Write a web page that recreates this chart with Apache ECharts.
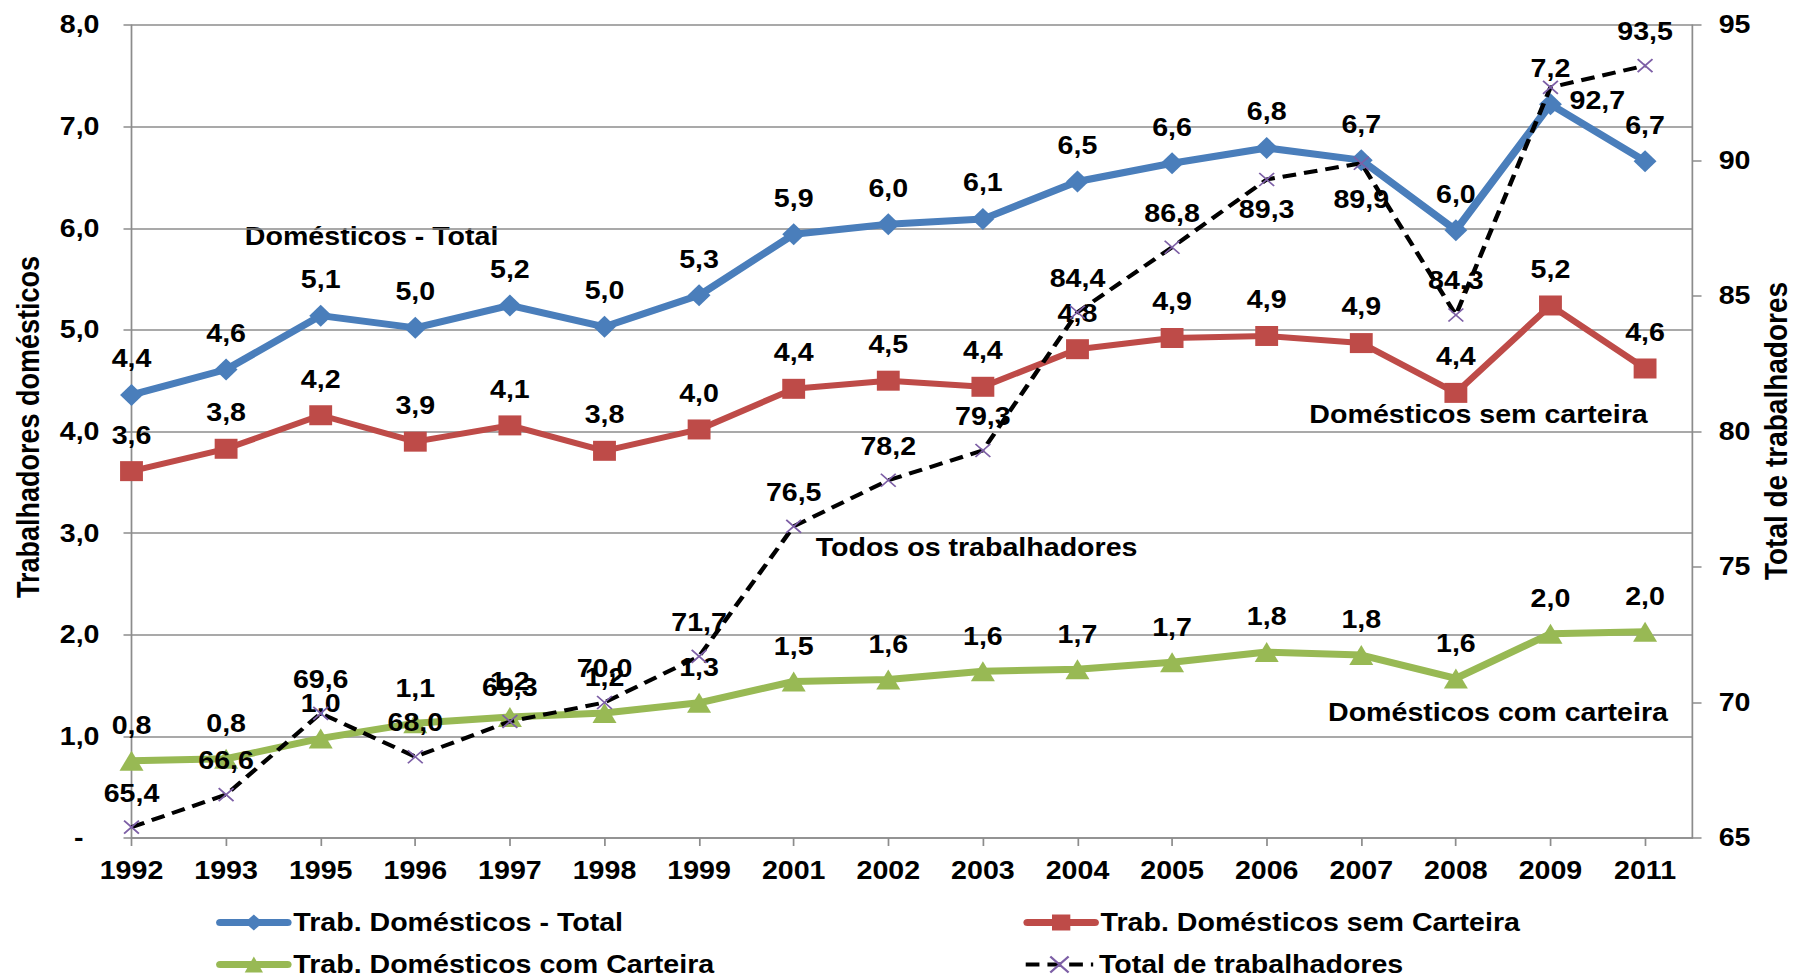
<!DOCTYPE html>
<html>
<head>
<meta charset="utf-8">
<script src="https://cdn.jsdelivr.net/npm/echarts/dist/echarts.min.js"></script>
<style>
  html, body { margin: 0; padding: 0; background: #fff; overflow: hidden; }
  #wrap { width: 1793px; height: 978px; overflow: hidden; }
  #chart { width: 1568px; height: 978px; transform: scaleX(1.143495); transform-origin: 0 0; }
</style>
</head>
<body>
<div id="wrap"><div id="chart"></div></div>
<script>
// ---- data ----
const years = ['1992','1993','1995','1996','1997','1998','1999','2001','2002','2003','2004','2005','2006','2007','2008','2009','2011'];
const domTotal    = [4.36,4.61,5.14,5.02,5.24,5.03,5.34,5.94,6.04,6.09,6.46,6.64,6.79,6.67,5.98,7.22,6.66];
const semCarteira = [3.61,3.83,4.16,3.90,4.06,3.81,4.02,4.42,4.50,4.44,4.81,4.92,4.94,4.87,4.38,5.24,4.62];
const comCarteira = [0.76,0.78,0.98,1.13,1.19,1.23,1.33,1.54,1.56,1.64,1.66,1.73,1.83,1.80,1.57,2.01,2.03];
const totalTrab   = [65.4,66.6,69.6,68.0,69.3,70.0,71.7,76.5,78.2,79.3,84.4,86.8,89.3,89.9,84.3,92.7,93.5];
const seriesNames = ['Trab. Domésticos - Total','Trab. Domésticos sem Carteira','Trab. Domésticos com Carteira','Total de trabalhadores'];
const leftTicks  = {min: 0, max: 8, step: 1};
const rightTicks = {min: 65, max: 95, step: 5};

// ---- styling ----
const FONT = "'Liberation Sans', Arial, Helvetica, sans-serif";
const GRID_COLOR = '#8c8c8c';
const COLORS = ['#4A7EBB', '#BE4B48', '#98B954', '#000000'];
const fmt = v => v.toFixed(1).replace('.', ',');
const txt = (size) => ({ color: '#000', fontFamily: FONT, fontWeight: 'bold', fontSize: size });
const lbl = (dy) => Object.assign({ show: true, position: 'inside', offset: [0, dy], formatter: p => fmt(p.value[1]) }, txt(25));
const pairs = arr => arr.map((v, i) => [i, v]);
const blackLabelOffset = { 12: [0, 30], 13: [0, 36], 15: [41, 13] };

const legendItem = (name, left, top, lineStyle) => ({
  left: left, top: top, padding: 0, orient: 'horizontal', itemWidth: 59, itemHeight: 20, itemGap: 5,
  selectedMode: false, textStyle: txt(25), lineStyle: lineStyle, data: [name]
});

const chart = echarts.init(document.getElementById('chart'), null, { renderer: 'svg' });

const option = {
  animation: false,
  backgroundColor: '#fff',
  grid: { left: 115, right: 88, top: 25, bottom: 140 },
  xAxis: {
    type: 'value', min: 0, max: 16.5, interval: 1,
    axisLine: { lineStyle: { color: GRID_COLOR, width: 1.5 } },
    axisTick: { show: true, length: 8, customValues: years.map((_, i) => i), lineStyle: { color: GRID_COLOR, width: 1.5 } },
    axisLabel: Object.assign({ margin: 20, customValues: years.map((_, i) => i), formatter: v => years[v] || '' }, txt(25)),
    splitLine: { show: false }
  },
  yAxis: [
    {
      type: 'value', position: 'left', min: leftTicks.min, max: leftTicks.max, interval: leftTicks.step,
      axisLine: { show: true, lineStyle: { color: GRID_COLOR, width: 1.5 } },
      axisTick: { show: true, length: 7, lineStyle: { color: GRID_COLOR, width: 1.5 } },
      splitLine: { show: true, lineStyle: { color: GRID_COLOR, width: 1.5 } },
      axisLabel: Object.assign({
        margin: 28,
        formatter: v => v === 0 ? '{d|-}' : fmt(v),
        rich: { d: Object.assign({ padding: [0, 14, 0, 0] }, txt(25)) }
      }, txt(25))
    },
    {
      type: 'value', position: 'right', min: rightTicks.min, max: rightTicks.max, interval: rightTicks.step,
      axisLine: { show: true, lineStyle: { color: GRID_COLOR, width: 1.5 } },
      axisTick: { show: true, length: 8, lineStyle: { color: GRID_COLOR, width: 1.5 } },
      splitLine: { show: false },
      axisLabel: Object.assign({ margin: 23, formatter: v => String(v) }, txt(25))
    }
  ],
  legend: [
    legendItem(seriesNames[0], 189, 910, { width: 7, cap: 'round' }),
    legendItem(seriesNames[2], 189, 952, { width: 7, cap: 'round' }),
    legendItem(seriesNames[1], 895, 910, { width: 7, cap: 'round' }),
    legendItem(seriesNames[3], 895, 952, { width: 4 })
  ],
  series: [
    {
      name: seriesNames[0], type: 'line', yAxisIndex: 0,
      data: pairs(domTotal),
      symbol: 'diamond', symbolSize: [20, 22],
      lineStyle: { color: COLORS[0], width: 7 },
      itemStyle: { color: COLORS[0] },
      label: lbl(-36), z: 2
    },
    {
      name: seriesNames[1], type: 'line', yAxisIndex: 0,
      data: pairs(semCarteira),
      symbol: 'rect', symbolSize: [20, 20],
      lineStyle: { color: COLORS[1], width: 6 },
      itemStyle: { color: COLORS[1] },
      label: lbl(-36), z: 3
    },
    {
      name: seriesNames[2], type: 'line', yAxisIndex: 0,
      data: pairs(comCarteira),
      symbol: 'triangle', symbolSize: [21, 20],
      lineStyle: { color: COLORS[2], width: 7 },
      itemStyle: { color: COLORS[2] },
      label: lbl(-35), z: 4
    },
    {
      name: seriesNames[3], type: 'line', yAxisIndex: 1,
      data: totalTrab.map((v, i) => ({ value: [i, v], label: { offset: blackLabelOffset[i] || [0, -34] } })),
      symbol: 'path://M0,0L10,10M10,0L0,10', symbolSize: 13,
      lineStyle: { color: COLORS[3], width: 4, type: [12, 7] },
      itemStyle: { color: 'rgba(0,0,0,0)', borderColor: '#7D5FA6', borderWidth: 1.6 },
      label: lbl(-34), z: 5
    }
  ],
  graphic: [
    { type: 'text', x: 325, y: 237, style: { text: 'Domésticos - Total', align: 'center', verticalAlign: 'middle', fill: '#000', font: 'bold 25px ' + FONT } },
    { type: 'text', x: 1293, y: 415, style: { text: 'Domésticos sem carteira', align: 'center', verticalAlign: 'middle', fill: '#000', font: 'bold 25px ' + FONT } },
    { type: 'text', x: 854, y: 548, style: { text: 'Todos os trabalhadores', align: 'center', verticalAlign: 'middle', fill: '#000', font: 'bold 25px ' + FONT } },
    { type: 'text', x: 1310, y: 713, style: { text: 'Domésticos com carteira', align: 'center', verticalAlign: 'middle', fill: '#000', font: 'bold 25px ' + FONT } },
    { type: 'text', x: 25, y: 427, rotation: Math.PI / 2, style: { text: 'Trabalhadores domésticos', align: 'center', verticalAlign: 'middle', fill: '#000', font: 'bold 27px ' + FONT } },
    { type: 'text', x: 1553, y: 431, rotation: Math.PI / 2, style: { text: 'Total de trabalhadores', align: 'center', verticalAlign: 'middle', fill: '#000', font: 'bold 28px ' + FONT } }
  ]
};
chart.setOption(option);
</script>
</body>
</html>
